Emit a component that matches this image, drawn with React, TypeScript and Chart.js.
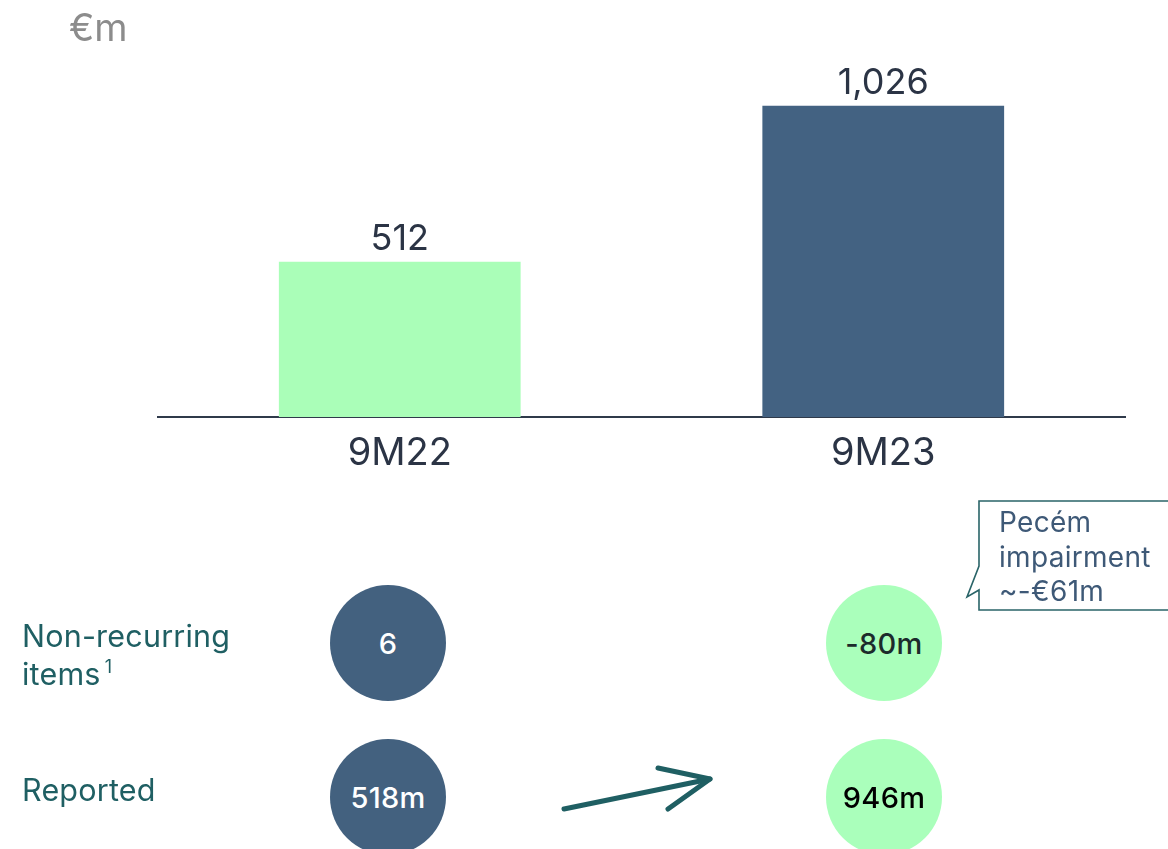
import React, { useEffect, useRef } from "react";
import { Chart, registerables } from "chart.js";

Chart.register(...registerables);

const categories = ["9M22", "9M23"];
const values = [512, 1026];
const valueLabels = ["512", "1,026"];
const barColors = ["#aafeb8", "#436282"];
const nonRecurring = ["6", "-80m"];
const reported = ["518m", "946m"];
const rowLabels = ["Non-recurring items", "Reported"];
const calloutLines = ["Pecém", "impairment", "~-€61m"];
const unitLabel = "€m";

const FONT = "Inter, 'Liberation Sans', sans-serif";

const valueLabelPlugin = {
  id: "valueLabels",
  afterDatasetsDraw(chart: any) {
    const ctx = chart.ctx;
    const meta = chart.getDatasetMeta(0);
    ctx.save();
    ctx.font = `400 36px ${FONT}`;
    ctx.fillStyle = "#2b3445";
    ctx.textAlign = "center";
    ctx.textBaseline = "alphabetic";
    meta.data.forEach((bar: any, i: number) => {
      ctx.fillText(valueLabels[i], bar.x, bar.y - 12);
    });
    ctx.restore();
  },
};

function Circle({ x, y, r, bg, color, text }: any) {
  return (
    <div
      style={{
        position: "absolute",
        left: x - r,
        top: y - r,
        width: 2 * r,
        height: 2 * r,
        borderRadius: "50%",
        background: bg,
        color,
        display: "flex",
        alignItems: "center",
        justifyContent: "center",
        fontFamily: FONT,
        fontWeight: 500,
        fontSize: 29,
        letterSpacing: 0.3,
      }}
    >
      {text}
    </div>
  );
}

export default function App() {
  const canvasRef = useRef<HTMLCanvasElement | null>(null);

  useEffect(() => {
    const canvas = canvasRef.current;
    if (!canvas) return;
    const chart = new Chart(canvas, {
      type: "bar",
      data: {
        labels: categories,
        datasets: [
          {
            data: values,
            backgroundColor: barColors,
            barPercentage: 0.5,
            categoryPercentage: 1,
          },
        ],
      },
      options: {
        responsive: false,
        animation: false,
        devicePixelRatio: 1,
        layout: { padding: { left: 158, right: 43, top: 53, bottom: 0 } },
        plugins: { legend: { display: false }, tooltip: { enabled: false } },
        scales: {
          y: { display: false, min: 0, max: 1200 },
          x: {
            grid: { display: false, drawTicks: false },
            border: { display: true, color: "#2f3a4a", width: 2 },
            ticks: {
              color: "#2b3445",
              font: { family: FONT, size: 38 },
              padding: 14,
            },
            afterFit(scale: any) {
              scale.height = 432;
            },
          },
        },
      },
      plugins: [valueLabelPlugin],
    });
    return () => chart.destroy();
  }, []);

  const teal = "#1f5f63";

  return (
    <div style={{ position: "fixed", left: 0, top: 0, width: 1168, height: 849, overflow: "hidden", background: "#fff" }}>
      <canvas ref={canvasRef} width={1168} height={849} style={{ position: "absolute", left: 0, top: 0 }} />
      <div style={{ position: "absolute", left: 69, top: 4, fontFamily: FONT, fontSize: 38, color: "#8c8c8c" }}>
        {unitLabel}
      </div>

      <div style={{ position: "absolute", left: 22, top: 617, fontFamily: FONT, fontSize: 30.5, color: teal, lineHeight: "38px", letterSpacing: 0.2 }}>
        {rowLabels[0].split(" ")[0]}
        <br />
        {rowLabels[0].split(" ")[1]}
        <sup style={{ fontSize: 18, marginLeft: 4, verticalAlign: 12, lineHeight: 0 }}>1</sup>
      </div>
      <div style={{ position: "absolute", left: 22, top: 771, fontFamily: FONT, fontSize: 30.5, color: teal, lineHeight: "38px", letterSpacing: 0.2 }}>
        {rowLabels[1]}
      </div>

      <Circle x={388} y={643} r={58} bg="#43617f" color="#ffffff" text={nonRecurring[0]} />
      <Circle x={884} y={643} r={58} bg="#aaffbb" color="#1c2b2b" text={nonRecurring[1]} />
      <Circle x={388} y={797} r={58} bg="#43617f" color="#ffffff" text={reported[0]} />
      <Circle x={884} y={797} r={58} bg="#aaffbb" color="#000000" text={reported[1]} />

      <svg width={1168} height={849} style={{ position: "absolute", left: 0, top: 0, pointerEvents: "none" }}>
        <g stroke={teal} strokeWidth={5} strokeLinecap="round" strokeLinejoin="round" fill="none">
          <line x1={564} y1={809} x2={710} y2={779} />
          <polyline points="658,768 710,779 668,809" />
        </g>
        <path
          d="M1172,501 L979,501 L979,566 L967,597 L979,590 L979,610 L1172,610"
          stroke="#2a6468"
          strokeWidth={1.6}
          fill="#ffffff"
        />
      </svg>
      <div style={{ position: "absolute", left: 999, top: 505, fontFamily: FONT, fontSize: 28, color: "#3e5977", lineHeight: "34.5px", letterSpacing: 0.3 }}>
        {calloutLines.map((l, i) => (
          <div key={i}>{l}</div>
        ))}
      </div>
    </div>
  );
}
